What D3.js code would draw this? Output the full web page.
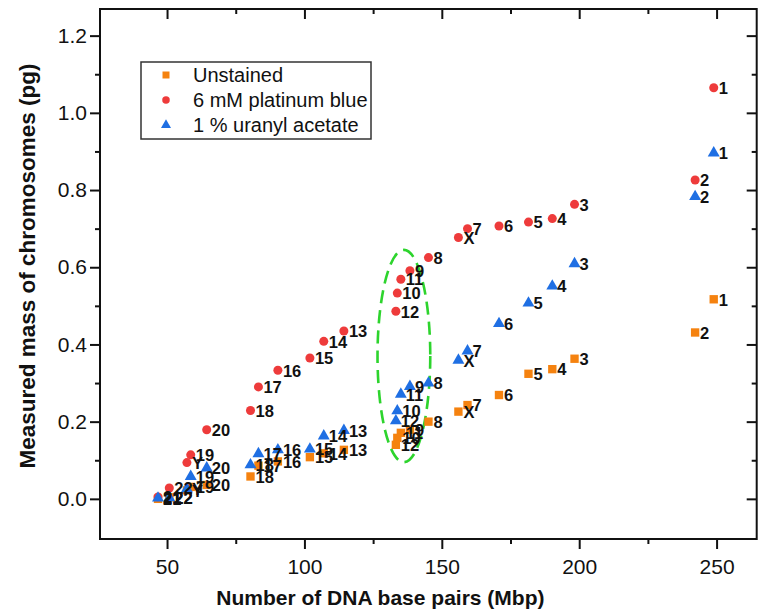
<!DOCTYPE html>
<html>
<head>
<meta charset="utf-8">
<script src="https://cdn.jsdelivr.net/npm/d3@7"></script>
<style>
  html, body { margin: 0; padding: 0; background: #fff; }
  svg { display: block; font-family: "Liberation Sans", Arial, sans-serif; }
</style>
</head>
<body>
<svg id="chart" width="760" height="614"></svg>
<script>
// Chromosome names and their sizes (Mbp)
const chromosomes = ["1","2","3","4","5","6","7","X","8","9","11","10","12","13","14","15","16","17","18","20","19","Y","22","21"];
const basePairs   = [248.96,242.19,198.30,190.21,181.54,170.81,159.35,156.04,145.14,138.39,135.09,133.80,133.28,114.36,107.04,101.99,90.34,83.26,80.37,64.44,58.62,57.23,50.82,46.71];

// Measured mass (pg) per chromosome
const unstained      = [0.517,0.431,0.363,0.336,0.324,0.269,0.243,0.226,0.200,0.179,0.171,0.158,0.140,0.127,0.118,0.108,0.097,0.086,0.058,0.036,0.031,0.022,0.004,0.000];
const platinumBlue   = [1.065,0.826,0.763,0.726,0.717,0.707,0.700,0.677,0.625,0.591,0.569,0.533,0.486,0.435,0.408,0.365,0.333,0.290,0.229,0.179,0.114,0.094,0.028,0.005];
const uranylAcetate  = [0.896,0.783,0.609,0.551,0.507,0.454,0.383,0.359,0.300,0.291,0.271,0.228,0.202,0.177,0.163,0.129,0.127,0.117,0.088,0.080,0.058,0.026,0.003,0.002];

const seriesNames = ["Unstained", "6 mM platinum blue", "1 % uranyl acetate"];
const xTicks = [50, 100, 150, 200, 250];
const xMinorTicks = [75, 125, 175, 225];
const yTicks = [0.0, 0.2, 0.4, 0.6, 0.8, 1.0, 1.2];
const yMinorTicks = [0.1, 0.3, 0.5, 0.7, 0.9, 1.1];

const svg = d3.select("#chart");
const plotLeft = 100, plotRight = 756.7, plotTop = 9, plotBottom = 539;

const x = d3.scaleLinear().domain([25.6, 264.6]).range([plotLeft, plotRight]);
const y = d3.scaleLinear().domain([-0.104, 1.269]).range([plotBottom, plotTop]);

const colors = ["#f5820f", "#ee3b3b", "#1f6fe3"];
const symbols = [d3.symbolSquare, d3.symbolCircle, d3.symbolTriangle];
const sizes = [70, 64, 62];

// Frame
svg.append("rect")
  .attr("x", plotLeft).attr("y", plotTop)
  .attr("width", plotRight - plotLeft).attr("height", plotBottom - plotTop)
  .attr("fill", "none").attr("stroke", "#111").attr("stroke-width", 2);

function styleAxis(g) {
  g.select(".domain").remove();
  g.selectAll(".tick line").attr("stroke", "#111").attr("stroke-width", 2);
}

// Bottom axis (outward ticks) with labels
const gx = svg.append("g").attr("transform", `translate(0,${plotBottom})`)
  .call(d3.axisBottom(x).tickValues(xTicks).tickSize(10).tickFormat(d3.format("d")));
styleAxis(gx);
gx.selectAll("text").attr("font-size", 21).attr("fill", "#111").attr("y", 20).attr("dy", "0.71em");
svg.append("g").attr("transform", `translate(0,${plotBottom})`)
  .call(d3.axisBottom(x).tickValues(xMinorTicks).tickSize(5).tickFormat(""))
  .call(styleAxis);

// Top axis (inward ticks)
svg.append("g").attr("transform", `translate(0,${plotTop})`)
  .call(d3.axisBottom(x).tickValues(xTicks).tickSize(10).tickFormat(""))
  .call(styleAxis);
svg.append("g").attr("transform", `translate(0,${plotTop})`)
  .call(d3.axisBottom(x).tickValues(xMinorTicks).tickSize(5).tickFormat(""))
  .call(styleAxis);

// Left axis (outward ticks) with labels
const gy = svg.append("g").attr("transform", `translate(${plotLeft},0)`)
  .call(d3.axisLeft(y).tickValues(yTicks).tickSize(10).tickFormat(d3.format(".1f")));
styleAxis(gy);
gy.selectAll("text").attr("font-size", 21).attr("fill", "#111").attr("x", -13);
svg.append("g").attr("transform", `translate(${plotLeft},0)`)
  .call(d3.axisLeft(y).tickValues(yMinorTicks).tickSize(5).tickFormat(""))
  .call(styleAxis);

// Right axis (inward ticks)
svg.append("g").attr("transform", `translate(${plotRight},0)`)
  .call(d3.axisLeft(y).tickValues(yTicks).tickSize(10).tickFormat(""))
  .call(styleAxis);
svg.append("g").attr("transform", `translate(${plotRight},0)`)
  .call(d3.axisLeft(y).tickValues(yMinorTicks).tickSize(5).tickFormat(""))
  .call(styleAxis);

// Axis titles
svg.append("text")
  .attr("x", (plotLeft + plotRight) / 2 - 48).attr("y", 605)
  .attr("text-anchor", "middle").attr("font-weight", "bold").attr("font-size", 21)
  .attr("fill", "#111")
  .text("Number of DNA base pairs (Mbp)");
svg.append("text")
  .attr("transform", `translate(35,${(plotTop + plotBottom) / 2 - 8}) rotate(-90)`)
  .attr("text-anchor", "middle").attr("font-weight", "bold").attr("font-size", 22.5)
  .attr("fill", "#111")
  .text("Measured mass of chromosomes (pg)");

// Dashed ellipse around the chromosomes 9-12 cluster
svg.append("ellipse")
  .attr("cx", x(136.2)).attr("cy", y(0.370))
  .attr("rx", x(136.2 + 9.6) - x(136.2))
  .attr("ry", y(0.370) - y(0.370 + 0.275))
  .attr("fill", "none").attr("stroke", "#2dd42d").attr("stroke-width", 2.6)
  .attr("stroke-dasharray", "13,7");

// Markers
const series = [unstained, platinumBlue, uranylAcetate];
const points = [];
series.forEach((vals, s) => {
  vals.forEach((v, i) => points.push({ s, bp: basePairs[i], v, name: chromosomes[i] }));
});

svg.append("g").selectAll("path")
  .data(points)
  .join("path")
  .attr("transform", d => `translate(${x(d.bp)},${y(d.v)})`)
  .attr("d", d => d3.symbol(symbols[d.s], sizes[d.s])())
  .attr("fill", d => colors[d.s]);

// Chromosome labels
svg.append("g").selectAll("text")
  .data(points)
  .join("text")
  .attr("x", d => x(d.bp) + 5)
  .attr("y", d => y(d.v))
  .attr("dy", "0.38em")
  .attr("font-size", 16.5).attr("font-weight", "bold").attr("fill", "#111")
  .text(d => d.name);

// Legend
const lg = svg.append("g");
lg.append("rect")
  .attr("x", 141).attr("y", 62).attr("width", 230).attr("height", 77)
  .attr("fill", "#fff").attr("stroke", "#333").attr("stroke-width", 1.5);
seriesNames.forEach((name, s) => {
  const ry = 75 + s * 25;
  lg.append("path")
    .attr("transform", `translate(166,${ry})`)
    .attr("d", d3.symbol(symbols[s], sizes[s] * 0.7)())
    .attr("fill", colors[s]);
  lg.append("text")
    .attr("x", 193).attr("y", ry).attr("dy", "0.35em")
    .attr("font-size", 20).attr("fill", "#111")
    .text(name);
});
</script>
</body>
</html>
